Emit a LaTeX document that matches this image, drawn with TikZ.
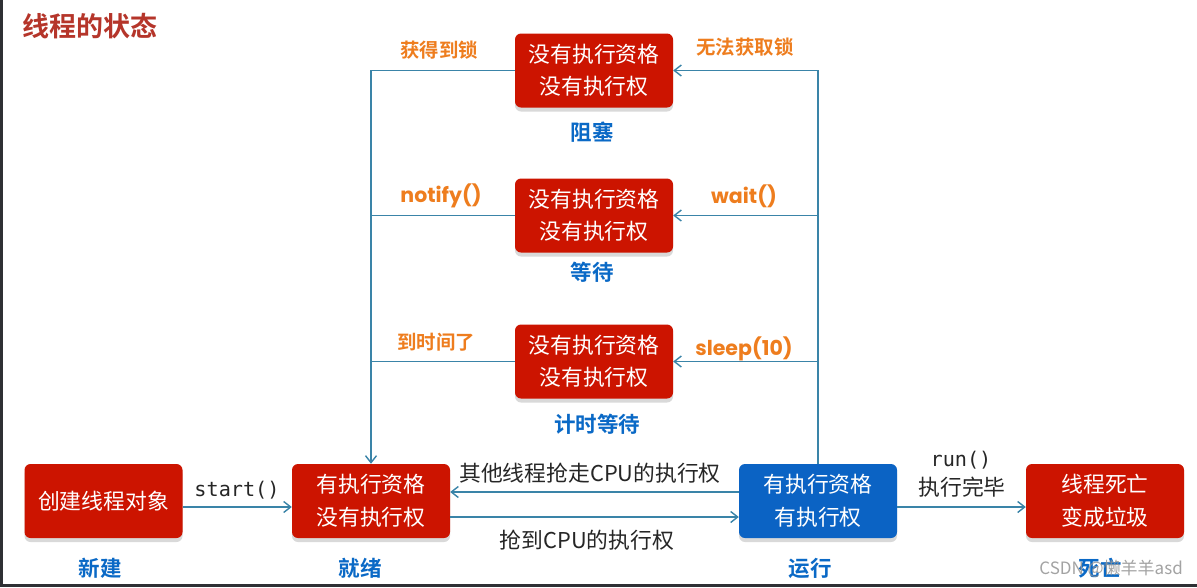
\documentclass[tikz,border=0pt]{standalone}
\usepackage{fontspec}
\setmainfont{Noto Sans CJK SC}
\newfontfamily\cjk{Noto Sans CJK SC}
\newfontfamily\cjkb{Noto Sans CJK SC Bold}
\newfontfamily\monof{DejaVu Sans Mono}
\newfontfamily\roundf{Poppins Bold}
\usetikzlibrary{arrows.meta,shadows,calc}
\definecolor{boxred}{HTML}{CC1400}
\definecolor{boxblue}{HTML}{0B63C4}
\definecolor{linec}{HTML}{3A84A8}
\definecolor{lblorange}{HTML}{EE7D1E}
\definecolor{lblblue}{HTML}{0A69C6}
\definecolor{titlered}{HTML}{B5352A}
\definecolor{frame}{HTML}{2E3034}
\tikzset{
  statebox/.style={rectangle, rounded corners=6pt, minimum width=158pt, minimum height=74pt,
    fill=boxred, text=white, font=\cjk\fontsize{21.8}{32.5}\selectfont, align=center, inner sep=0pt,
    drop shadow={shadow xshift=0pt, shadow yshift=-4pt, fill=black, opacity=.15}},
  runbox/.style={statebox, fill=boxblue},
  conn/.style={draw=linec, line width=1.6pt},
  arr/.style={conn, -{Straight Barb[length=7pt,width=11pt,line width=1.4pt]}},
  orangelbl/.style={text=lblorange, font=\cjkb\fontsize{19.4}{20}\selectfont, inner sep=0pt},
  orangelat/.style={text=lblorange, font=\roundf\fontsize{20.5}{22}\selectfont, inner sep=0pt},
  bluelbl/.style={text=lblblue, font=\cjkb\fontsize{21.5}{22}\selectfont, inner sep=0pt},
  plainlbl/.style={text=black!85, font=\cjk\fontsize{21.8}{28}\selectfont, inner sep=0pt, align=center},
  monolbl/.style={text=black!85, font=\monof\fontsize{20.2}{28}\selectfont, inner sep=0pt},
}
\begin{document}
\begin{tikzpicture}[x=1pt,y=-1pt]
\useasboundingbox (0,0) rectangle (1197,587);
\fill[white] (0,0) rectangle (1197,587);
\fill[frame] (0,0) rectangle (3,587);
\fill[frame] (0,584) rectangle (1197,587);

\node[anchor=west, text=titlered, font=\cjkb\fontsize{27}{30}\selectfont, inner sep=0pt] (title) at (22,26) {线程的状态};

% state boxes
\node[statebox] (blocked) at (594,70.5) {没有执行资格\\没有执行权};
\node[statebox] (waiting) at (594,215.5) {没有执行资格\\没有执行权};
\node[statebox] (timed) at (594,361.5) {没有执行资格\\没有执行权};
\node[statebox] (new) at (103.5,501) {创建线程对象};
\node[statebox] (ready) at (371,501) {有执行资格\\没有执行权};
\node[runbox] (running) at (818,501) {有执行资格\\有执行权};
\node[statebox] (dead) at (1105,501) {线程死亡\\变成垃圾};

% state names
\node[bluelbl] (nblocked) at (592,132) {阻塞};
\node[bluelbl] (nwaiting) at (592,272) {等待};
\node[bluelbl] (ntimed) at (597,424) {计时等待};
\node[bluelbl] (nnew) at (100,568) {新建};
\node[bluelbl] (nready) at (360,568) {就绪};
\node[bluelbl] (nrunning) at (810,568) {运行};
\node[bluelbl] (ndead) at (1100,568) {死亡};

% left return lines
\draw[arr] (blocked.west) -| (ready.north);
\draw[conn] (waiting.west) -- (waiting.west -| ready.north);
\draw[conn] (timed.west) -- (timed.west -| ready.north);

% right lines from running
\draw[arr] (running.north) |- (blocked.east);
\draw[arr] (running.north |- waiting.east) -- (waiting.east);
\draw[arr] (running.north |- timed.east) -- (timed.east);

% bottom row
\draw[arr] ([yshift=-6pt]new.east) -- ([yshift=-6pt]ready.west);
\draw[arr] ([yshift=9pt]running.west) -- ([yshift=9pt]ready.east);
\draw[arr] ([yshift=-16pt]ready.east) -- ([yshift=-16pt]running.west);
\draw[arr] ([yshift=-6pt]running.east) -- ([yshift=-6pt]dead.west);

% orange labels
\node[orangelbl] (lgot) at (439,50) {获得到锁};
\node[orangelbl] (lnolock) at (745,47) {无法获取锁};
\node[orangelat] (lnotify) at (441,196) {notify()};
\node[orangelat] (lwait) at (744,196) {wait()};
\node[orangelbl] (ltime) at (436,342) {到时间了};
\node[orangelat] (lsleep) at (744,349) {sleep(10)};

% black labels
\node[monolbl] (lstart) at (237,490) {start()};
\node[monolbl] (lrun) at (961,460) {run()};
\node[plainlbl] (ldone) at (962,487) {执行完毕};
\node[plainlbl] (lsteal) at (590,473) {其他线程抢走CPU的执行权};
\node[plainlbl] (lgrab) at (587,540) {抢到CPU的执行权};

% watermark
\node[text=gray!85, opacity=.85, font=\cjk\fontsize{17}{18}\selectfont, inner sep=0pt, anchor=east] (wm) at (1183,569) {CSDN @懒羊羊asd};
\end{tikzpicture}
\end{document}
